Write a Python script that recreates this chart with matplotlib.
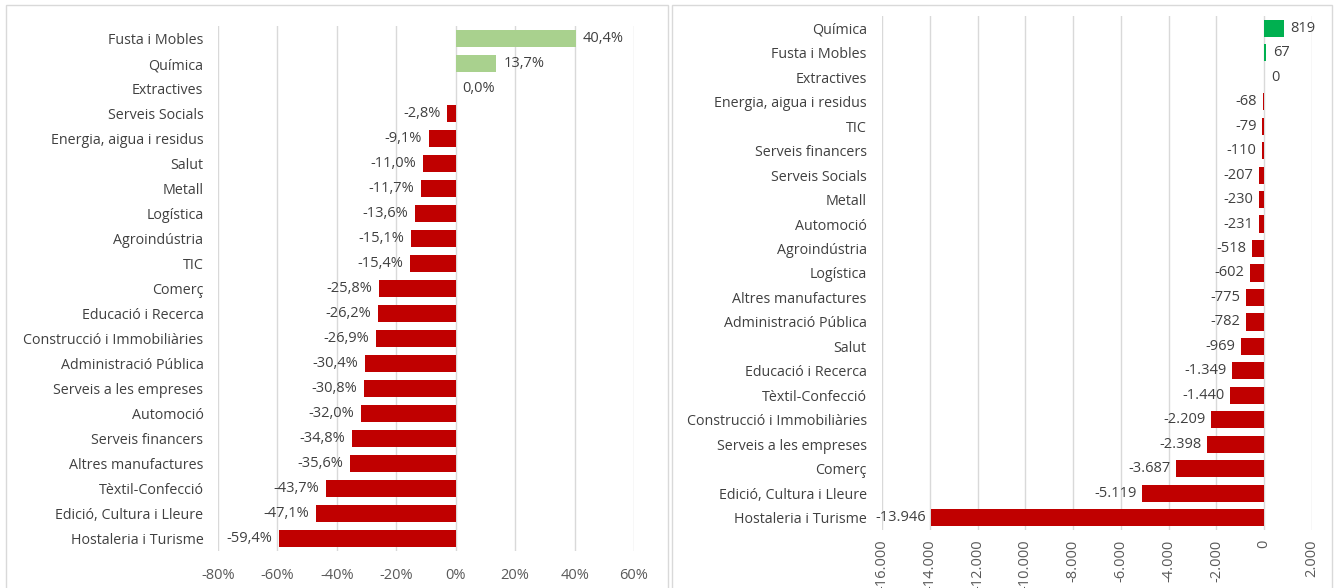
import matplotlib.pyplot as plt
import matplotlib.ticker as ticker
from matplotlib.patches import Rectangle

plt.rcParams['font.family'] = ['Open Sans', 'DejaVu Sans']

# left panel: percentage change
sectors_pct = [
    'Fusta i Mobles', 'Química', 'Extractives', 'Serveis Socials',
    'Energia, aigua i residus', 'Salut', 'Metall', 'Logística',
    'Agroindústria', 'TIC', 'Comerç', 'Educació i Recerca',
    'Construcció i Immobiliàries', 'Administració Pública',
    'Serveis a les empreses', 'Automoció', 'Serveis financers',
    'Altres manufactures', 'Tèxtil-Confecció', 'Edició, Cultura i Lleure',
    'Hostaleria i Turisme',
]
pct_values = [40.4, 13.7, 0.0, -2.8, -9.1, -11.0, -11.7, -13.6, -15.1, -15.4,
              -25.8, -26.2, -26.9, -30.4, -30.8, -32.0, -34.8, -35.6, -43.7,
              -47.1, -59.4]

# right panel: absolute change
sectors_abs = [
    'Química', 'Fusta i Mobles', 'Extractives', 'Energia, aigua i residus',
    'TIC', 'Serveis financers', 'Serveis Socials', 'Metall', 'Automoció',
    'Agroindústria', 'Logística', 'Altres manufactures',
    'Administració Pública', 'Salut', 'Educació i Recerca',
    'Tèxtil-Confecció', 'Construcció i Immobiliàries',
    'Serveis a les empreses', 'Comerç', 'Edició, Cultura i Lleure',
    'Hostaleria i Turisme',
]
abs_values = [819, 67, 0, -68, -79, -110, -207, -230, -231, -518, -602, -775,
              -782, -969, -1349, -1440, -2209, -2398, -3687, -5119, -13946]

RED = '#C00000'
LIGHT_GREEN = '#A9D18E'
GREEN = '#00B050'
GRID = '#D9D9D9'
TXT = '#404040'
TICK = '#595959'

fig = plt.figure(figsize=(13.36, 5.88), dpi=100)

# panel frames
for x0, w in [(6, 662), (672, 660)]:
    fig.patches.append(Rectangle((x0 / 1336, -0.01), w / 1336, 1 - 5 / 588 + 0.01,
                                 transform=fig.transFigure, fill=False,
                                 edgecolor='#D9D9D9', linewidth=1.0))


def style(ax, ypad):
    for s in ax.spines.values():
        s.set_visible(False)
    ax.tick_params(length=0)
    ax.grid(axis='x', color=GRID, linewidth=1)
    ax.set_axisbelow(True)
    ax.tick_params(axis='y', labelsize=10.3, labelcolor=TXT, pad=ypad)
    ax.tick_params(axis='x', labelsize=10.5, labelcolor=TICK)


def fmt_thousands(v, p=None):
    return f'{v:,.0f}'.replace(',', '.')


# ---- left ----
ax1 = fig.add_axes([218 / 1336, 1 - 551 / 588, (634 - 218) / 1336, (551 - 26) / 588])
y1 = range(len(sectors_pct))
c1 = [LIGHT_GREEN if v > 0 else RED for v in pct_values]
ax1.barh(y1, pct_values, height=0.68, color=c1)
ax1.set_yticks(list(y1))
ax1.set_yticklabels(sectors_pct)
ax1.set_ylim(len(sectors_pct) - 0.5, -0.5)
ax1.set_xlim(-80, 60)
ax1.set_xticks(range(-80, 61, 20))
ax1.xaxis.set_major_formatter(ticker.FuncFormatter(lambda v, p: f'{v:.0f}%'))
style(ax1, 10.5)
ax1.tick_params(axis='x', pad=12)
for i, v in enumerate(pct_values):
    s = f'{v:.1f}'.replace('.', ',') + '%'
    if v >= 0:
        ax1.annotate(s, (v, i), xytext=(5, 0), textcoords='offset points',
                     ha='left', va='center', fontsize=10.5, color=TXT)
    else:
        ax1.annotate(s, (v, i), xytext=(-5, 0), textcoords='offset points',
                     ha='right', va='center', fontsize=10.5, color=TXT)

# ---- right ----
ax2 = fig.add_axes([882 / 1336, 1 - 530 / 588, (1312 - 882) / 1336, (530 - 16) / 588])
y2 = range(len(sectors_abs))
c2 = [GREEN if v > 0 else RED for v in abs_values]
ax2.barh(y2, abs_values, height=0.7, color=c2)
ax2.set_yticks(list(y2))
ax2.set_yticklabels(sectors_abs)
ax2.set_ylim(len(sectors_abs) - 0.5, -0.5)
ax2.set_xlim(-16000, 2000)
ax2.set_xticks(range(-16000, 2001, 2000))
ax2.xaxis.set_major_formatter(ticker.FuncFormatter(fmt_thousands))
style(ax2, 11)
ax2.tick_params(axis='x', pad=7)
for lab in ax2.get_xticklabels():
    lab.set_rotation(90)
for i, v in enumerate(abs_values):
    s = fmt_thousands(v)
    if v >= 0:
        ax2.annotate(s, (v, i), xytext=(5, 0), textcoords='offset points',
                     ha='left', va='center', fontsize=10.5, color=TXT)
    else:
        ax2.annotate(s, (v, i), xytext=(-4, 0), textcoords='offset points',
                     ha='right', va='center', fontsize=10.5, color=TXT)

fig.savefig('out.png', dpi=100)
